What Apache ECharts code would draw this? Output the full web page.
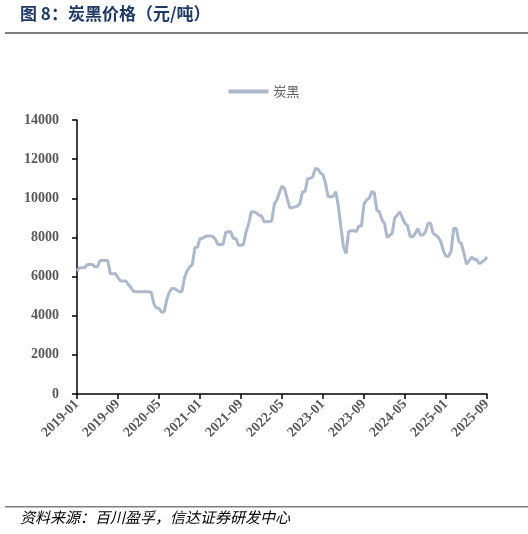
<!DOCTYPE html>
<html>
<head>
<meta charset="utf-8">
<script src="https://cdn.jsdelivr.net/npm/echarts@6/dist/echarts.min.js"></script>
<style>
  html, body { margin: 0; padding: 0; background: #fff; }
  #c1 { width: 528px; height: 534px; }
</style>
</head>
<body>
<div id="c1"></div>
<script>
// half-month points, 2019-01 .. 2025-09
var startYear = 2019, startMonth = 1, monthCount = 81;
var tickLabels = ['2019-01','2019-09','2020-05','2021-01','2021-09','2022-05','2023-01','2023-09','2024-05','2025-01','2025-09'];
var yTicks = [0, 2000, 4000, 6000, 8000, 10000, 12000, 14000];

var price2019 = [6300,6450,6450,6450,6620,6620,6620,6500,6500,6820,6820,6820,6820,6150,6150,6150,5950,5780,5780,5780,5600,5450,5250,5220];
var price2020 = [5220,5220,5220,5220,5220,5200,4600,4400,4370,4180,4190,4800,5200,5390,5390,5300,5220,5250,5980,6300,6500,6600,7490,7500];
var price2021 = [7950,7950,8050,8070,8070,8050,7900,7640,7640,7640,8250,8290,8290,7950,7950,7600,7600,7650,8290,8700,9300,9310,9250,9140];
var price2022 = [9100,8800,8800,8800,8850,9700,9910,10300,10620,10500,9990,9520,9520,9560,9600,9740,10330,10350,11000,11020,11100,11530,11500,11300];
var price2023 = [11200,10760,10080,10080,10100,10330,9600,8500,7500,7180,8300,8340,8340,8300,8580,8580,9700,9910,10000,10330,10300,9400,9300,8900];
var price2024 = [8720,8000,8100,8210,9000,9140,9310,9000,8720,8600,8050,8030,8200,8460,8120,8120,8300,8720,8720,8200,8120,8000,7780,7300];
var price2025 = [7040,7040,7300,8460,8460,7800,7690,7200,6630,6800,7000,6870,6870,6650,6750,6840,7000];

var prices = [].concat(price2019, price2020, price2021, price2022, price2023, price2024, price2025);

var categories = [];
for (var i = 0; i < monthCount; i++) {
  var y = startYear + Math.floor((startMonth - 1 + i) / 12);
  var m = (startMonth - 1 + i) % 12 + 1;
  var ym = y + '-' + (m < 10 ? '0' + m : m);
  categories.push(ym);
  if (i < monthCount - 1) categories.push(ym + '-16');
}

var labelFont = '"Liberation Serif", "Times New Roman", serif';

var option = {
  animation: false,
  color: ['#adb9ca'],
  legend: {
    top: 80,
    left: 'center',
    itemWidth: 40,
    itemHeight: 4,
    itemGap: 10,
    icon: 'rect',
    textStyle: { color: '#595959', fontSize: 13, fontFamily: '"Noto Sans CJK SC", sans-serif' },
    data: ['炭黑']
  },
  grid: { left: 77, right: 41, top: 120, bottom: 140 },
  xAxis: {
    type: 'category',
    boundaryGap: false,
    data: categories,
    axisLine: { lineStyle: { color: '#000', width: 1.5 } },
    axisTick: { interval: 15, length: 5, lineStyle: { color: '#000', width: 1.5 } },
    axisLabel: {
      interval: 15,
      rotate: 45,
      margin: 8,
      color: '#595959',
      fontSize: 14,
      fontWeight: 'bold',
      fontFamily: labelFont,
      formatter: function (v) { return v.slice(0, 7); }
    },
    splitLine: { show: false }
  },
  yAxis: {
    type: 'value',
    min: yTicks[0],
    max: yTicks[yTicks.length - 1],
    interval: 2000,
    axisLine: { show: true, lineStyle: { color: '#000', width: 1.5 } },
    axisTick: { show: true, length: 5, lineStyle: { color: '#000', width: 1.5 } },
    axisLabel: {
      margin: 18,
      color: '#595959',
      fontSize: 14,
      fontWeight: 'bold',
      fontFamily: labelFont,
      formatter: function (v) { return String(v); }
    },
    splitLine: { show: false }
  },
  graphic: [
    {
      type: 'text', left: 20, top: 5,
      style: { text: '图 8：炭黑价格（元/吨）', fill: '#1f3864', font: 'bold 17px "Noto Sans CJK SC", sans-serif' }
    },
    {
      type: 'rect', shape: { x: 5, y: 32, width: 523, height: 2 },
      style: { fill: '#7f7f7f' }
    },
    {
      type: 'rect', shape: { x: 5, y: 506, width: 523, height: 1.5 },
      style: { fill: '#7f7f7f' }
    },
    {
      type: 'text', left: 20, top: 510,
      style: { text: '资料来源：百川盈孚，信达证券研发中心', fill: '#000', font: 'italic 15px "Noto Sans CJK SC", sans-serif' }
    }
  ],
  series: [
    {
      name: '炭黑',
      type: 'line',
      data: prices,
      showSymbol: false,
      lineStyle: { width: 3, color: '#adb9ca' }
    }
  ]
};

var myChart = echarts.init(document.getElementById('c1'));
myChart.setOption(option);
</script>
</body>
</html>
